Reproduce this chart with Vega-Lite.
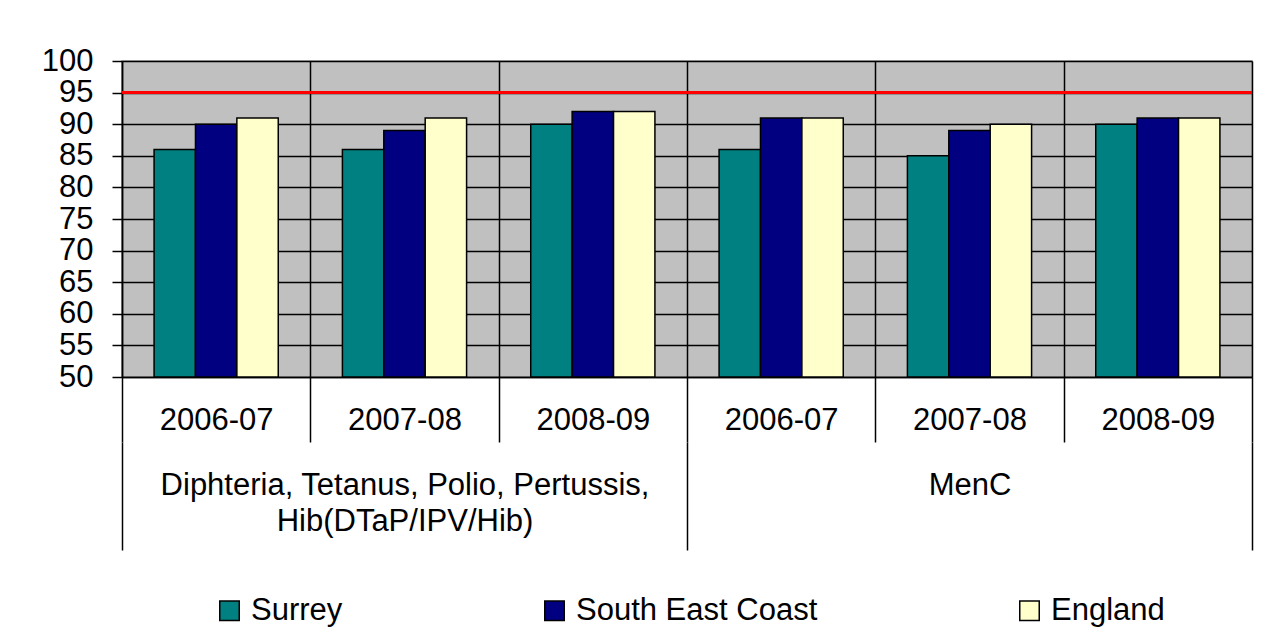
{
  "$schema": "https://vega.github.io/schema/vega-lite/v6.json",
  "width": 1130,
  "height": 316,
  "autosize": {"type": "none"},
  "padding": {"left": 122, "top": 61, "right": 13, "bottom": 262},
  "background": "white",
  "config": {
    "font": "Liberation Sans",
    "view": {"fill": "#C0C0C0", "stroke": "#A0A0A0", "strokeWidth": 1.5},
    "axisY": {"labelOverlap": false, "labelFlush": false, "tickCount": 12}
  },
  "data": {
    "values": [
      {"vaccine": "Diphteria, Tetanus, Polio, Pertussis, Hib(DTaP/IPV/Hib)", "group": "DTaP 2006-07", "area": "Surrey", "value": 86},
      {"vaccine": "Diphteria, Tetanus, Polio, Pertussis, Hib(DTaP/IPV/Hib)", "group": "DTaP 2006-07", "area": "South East Coast", "value": 90},
      {"vaccine": "Diphteria, Tetanus, Polio, Pertussis, Hib(DTaP/IPV/Hib)", "group": "DTaP 2006-07", "area": "England", "value": 91},
      {"vaccine": "Diphteria, Tetanus, Polio, Pertussis, Hib(DTaP/IPV/Hib)", "group": "DTaP 2007-08", "area": "Surrey", "value": 86},
      {"vaccine": "Diphteria, Tetanus, Polio, Pertussis, Hib(DTaP/IPV/Hib)", "group": "DTaP 2007-08", "area": "South East Coast", "value": 89},
      {"vaccine": "Diphteria, Tetanus, Polio, Pertussis, Hib(DTaP/IPV/Hib)", "group": "DTaP 2007-08", "area": "England", "value": 91},
      {"vaccine": "Diphteria, Tetanus, Polio, Pertussis, Hib(DTaP/IPV/Hib)", "group": "DTaP 2008-09", "area": "Surrey", "value": 90},
      {"vaccine": "Diphteria, Tetanus, Polio, Pertussis, Hib(DTaP/IPV/Hib)", "group": "DTaP 2008-09", "area": "South East Coast", "value": 92},
      {"vaccine": "Diphteria, Tetanus, Polio, Pertussis, Hib(DTaP/IPV/Hib)", "group": "DTaP 2008-09", "area": "England", "value": 92},
      {"vaccine": "MenC", "group": "MenC 2006-07", "area": "Surrey", "value": 86},
      {"vaccine": "MenC", "group": "MenC 2006-07", "area": "South East Coast", "value": 91},
      {"vaccine": "MenC", "group": "MenC 2006-07", "area": "England", "value": 91},
      {"vaccine": "MenC", "group": "MenC 2007-08", "area": "Surrey", "value": 85},
      {"vaccine": "MenC", "group": "MenC 2007-08", "area": "South East Coast", "value": 89},
      {"vaccine": "MenC", "group": "MenC 2007-08", "area": "England", "value": 90},
      {"vaccine": "MenC", "group": "MenC 2008-09", "area": "Surrey", "value": 90},
      {"vaccine": "MenC", "group": "MenC 2008-09", "area": "South East Coast", "value": 91},
      {"vaccine": "MenC", "group": "MenC 2008-09", "area": "England", "value": 91}
    ]
  },
  "layer": [
    {
      "mark": {"type": "bar", "stroke": "black", "strokeWidth": 1.5},
      "encoding": {
        "x": {
          "field": "group", "type": "nominal", "sort": null,
          "scale": {"paddingInner": 0, "paddingOuter": 0},
          "axis": {
            "orient": "bottom", "title": null, "tickBand": "extent",
            "tickSize": 65, "tickColor": "black", "tickWidth": 1.5,
            "domainColor": "black", "domainWidth": 1.5,
            "grid": true, "gridColor": "black", "gridWidth": 1.5,
            "labelFontSize": 31, "labelColor": "black", "labelPadding": -22,
            "labelBaseline": "middle", "labelAngle": 0, "labelOverlap": false,
            "labelExpr": "slice(datum.label, -7)"
          }
        },
        "xOffset": {"field": "area", "type": "nominal", "sort": ["Surrey", "South East Coast", "England"], "scale": {"paddingInner": 0, "paddingOuter": 0.775}},
        "y": {
          "field": "value", "type": "quantitative",
          "scale": {"domain": [50, 100], "zero": false, "nice": false},
          "axis": {
            "title": null, "values": [50, 55, 60, 65, 70, 75, 80, 85, 90, 95, 100],
            "tickCount": 12,
            "domainColor": "black", "domainWidth": 1.5,
            "tickColor": "black", "tickSize": 10, "tickWidth": 1.5,
            "grid": true, "gridColor": "black", "gridWidth": 1.5,
            "labelFontSize": 31, "labelColor": "black", "labelPadding": 19,
            "labelOverlap": false
          }
        },
        "y2": {"datum": 50},
        "color": {
          "field": "area", "type": "nominal",
          "sort": ["Surrey", "South East Coast", "England"],
          "scale": {"domain": ["Surrey", "South East Coast", "England"], "range": ["#008080", "#000080", "#FFFFCC"]},
          "legend": {
            "title": null, "orient": "none", "legendX": 92, "legendY": 534,
            "direction": "horizontal", "symbolType": "square", "symbolSize": 380,
            "symbolStrokeColor": "black", "symbolStrokeWidth": 1.5,
            "labelFontSize": 31, "labelColor": "black", "labelOffset": 6,
            "columnPadding": 196, "padding": 0, "labelLimit": 0
          }
        }
      }
    },
    {
      "mark": {"type": "rule", "color": "#FF0000", "strokeWidth": 3},
      "encoding": {"y": {"datum": 95, "type": "quantitative"}}
    },
    {
      "mark": {"type": "point", "opacity": 0},
      "encoding": {
        "x": {
          "field": "vaccine", "type": "nominal", "sort": null,
          "scale": {"paddingInner": 0, "paddingOuter": 0},
          "axis": {
            "orient": "bottom", "title": null, "offset": 65, "domain": false,
            "tickBand": "extent", "tickSize": 108, "tickColor": "black", "tickWidth": 1.5,
            "grid": false, "labelFontSize": 31, "labelColor": "black",
            "labelPadding": -80, "labelBaseline": "top", "labelAngle": 0,
            "labelOverlap": false, "labelLimit": 0, "labelLineHeight": 36,
            "labelExpr": "indexof(datum.label, 'Hib(') > 0 ? [substring(datum.label, 0, indexof(datum.label, 'Hib(') - 1), substring(datum.label, indexof(datum.label, 'Hib('))] : datum.label"
          }
        }
      }
    }
  ],
  "resolve": {"scale": {"x": "independent"}}
}
